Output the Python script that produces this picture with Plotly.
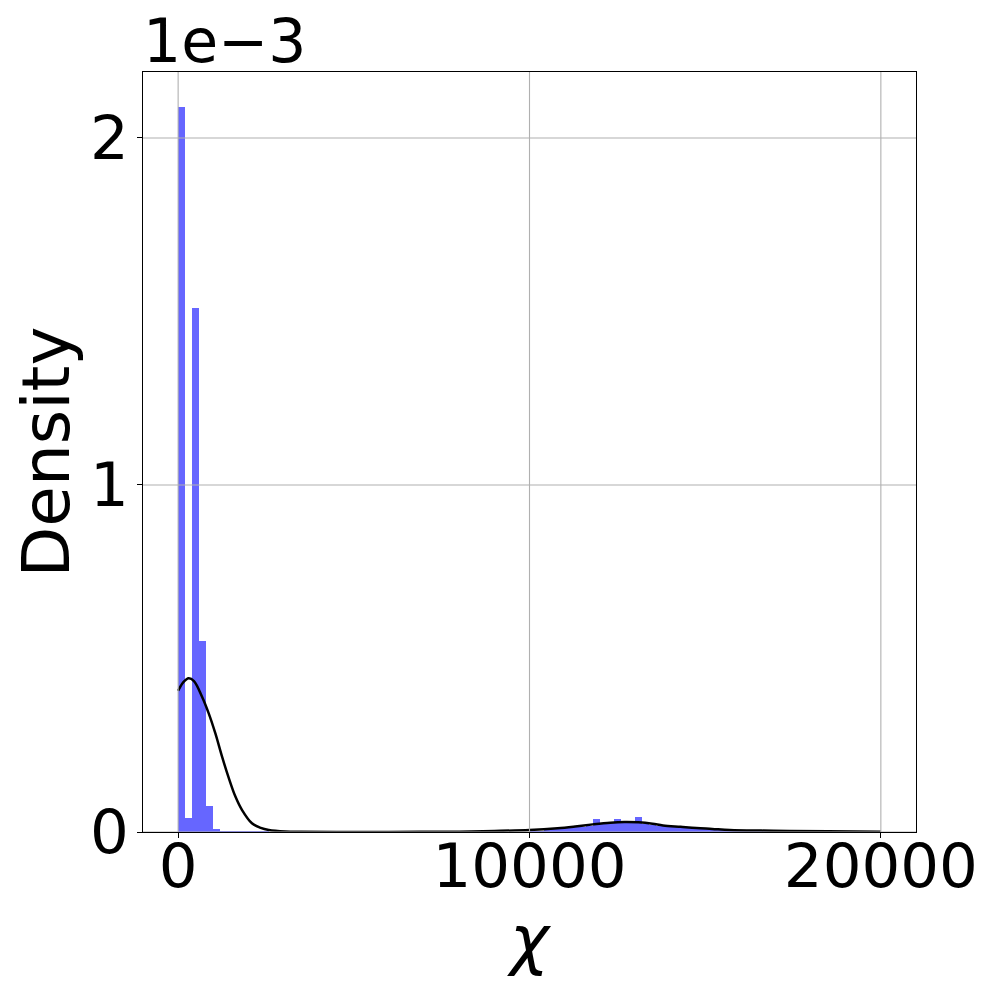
'''
density histogram of chi with a kde line on top
    values read off the reference picture, densities in units of 1e-3
'''
import plotly.graph_objects as go

# histogram bins (left edges, width 200) and their heights (x 1e-3)
bin_width = 200
bin_left = [
    0, 200, 400, 600, 800, 1000, 1200, 1400, 1600, 1800, 2000, 2200, 2400,
    10000, 10200, 10400, 10600, 10800, 11000, 11200, 11400, 11600, 11800,
    12000, 12200, 12400, 12600, 12800, 13000, 13200, 13400, 13600, 13800,
    14000, 14200, 14400, 14600, 14800, 15000, 15200, 15400, 15600, 15800,
    16000, 16200, 16400, 16600, 16800, 17000,
]
bin_density = [
    2.09, 0.04, 1.51, 0.55, 0.075, 0.009, 0.004, 0.004, 0.003, 0.003, 0.003, 0.002, 0.002,
    0.002, 0.004, 0.006, 0.008, 0.010, 0.011, 0.013, 0.015, 0.017, 0.037,
    0.024, 0.025, 0.038, 0.026, 0.025, 0.044, 0.023, 0.021, 0.018, 0.016,
    0.014, 0.012, 0.011, 0.010, 0.009, 0.008, 0.007, 0.006, 0.005, 0.004,
    0.004, 0.003, 0.003, 0.002, 0.002, 0.001,
]

# kde curve
kde_x = [
    0, 150, 300, 450, 680, 870, 1060, 1250, 1440, 1630, 1820, 2100, 2350, 2580,
    3050, 3500, 4500, 6000, 8000, 9000, 10000, 10800, 11300, 11800, 12300,
    12700, 13100, 13500, 13800, 14300, 14750, 15200, 15700, 16600, 17400,
    18500, 20000,
]
kde_y = [
    0.407, 0.432, 0.443, 0.435, 0.390, 0.342, 0.284, 0.217, 0.156, 0.102, 0.063,
    0.025, 0.012, 0.006, 0.0015, 0.0005, 0.0002, 0.0002, 0.001, 0.003, 0.006,
    0.011, 0.016, 0.022, 0.027, 0.029, 0.028, 0.024, 0.019, 0.015, 0.0115,
    0.009, 0.006, 0.004, 0.003, 0.002, 0.001,
]

x_ticks = [0, 10000, 20000]
y_ticks = [0, 1, 2]
x_range = [-1000, 21000]
y_range = [0, 2.19]

FONT = 'DejaVu Sans'

fig = go.Figure()
fig.add_trace(go.Bar(
    x=bin_left, y=bin_density, width=bin_width, offset=0,
    marker=dict(color='rgba(0,0,255,0.6)', line=dict(width=0)),
    showlegend=False,
))
fig.add_trace(go.Scatter(
    x=kde_x, y=kde_y, mode='lines', line=dict(color='black', width=2.5, shape='spline'),
    showlegend=False,
))

# grid drawn over the bars like matplotlib does
for t in x_ticks:
    fig.add_shape(type='line', xref='x', yref='paper', x0=t, x1=t, y0=0, y1=1,
                  line=dict(color='#b0b0b0', width=1.1), layer='above')
for t in y_ticks:
    fig.add_shape(type='line', xref='paper', yref='y', x0=0, x1=1, y0=t, y1=t,
                  line=dict(color='#b0b0b0', width=1.1), layer='above')

axis_style = dict(
    showgrid=False, zeroline=False, showline=True, mirror=True,
    linecolor='black', linewidth=1.1, ticks='outside', ticklen=5,
    tickwidth=1.1, tickcolor='black',
    tickfont=dict(family=FONT, size=61, color='black'),
)
fig.update_xaxes(
    range=x_range, tickvals=x_ticks, ticktext=[str(t) for t in x_ticks],
    ticklabelstandoff=-24,
    title=dict(text='<i>χ</i>', font=dict(family=FONT, size=66, color='black'), standoff=8),
    **axis_style,
)
fig.update_yaxes(
    range=y_range, tickvals=y_ticks, ticktext=[str(t) for t in y_ticks],
    ticklabelstandoff=-4,
    title=dict(text='Density', font=dict(family=FONT, size=66, color='black'), standoff=8),
    **axis_style,
)
fig.add_annotation(
    text='1e\u22123', xref='paper', yref='paper', x=0, y=1, xanchor='left', yanchor='bottom',
    showarrow=False, font=dict(family=FONT, size=60, color='black'), xshift=-2, yshift=-6,
)
# page body adds an 8px offset, so margins are shifted by that
fig.update_layout(
    width=997, height=997, plot_bgcolor='white', paper_bgcolor='white',
    margin=dict(l=135, r=89, t=64, b=173, autoexpand=False), bargap=0,
)
fig.write_html('out.html')
